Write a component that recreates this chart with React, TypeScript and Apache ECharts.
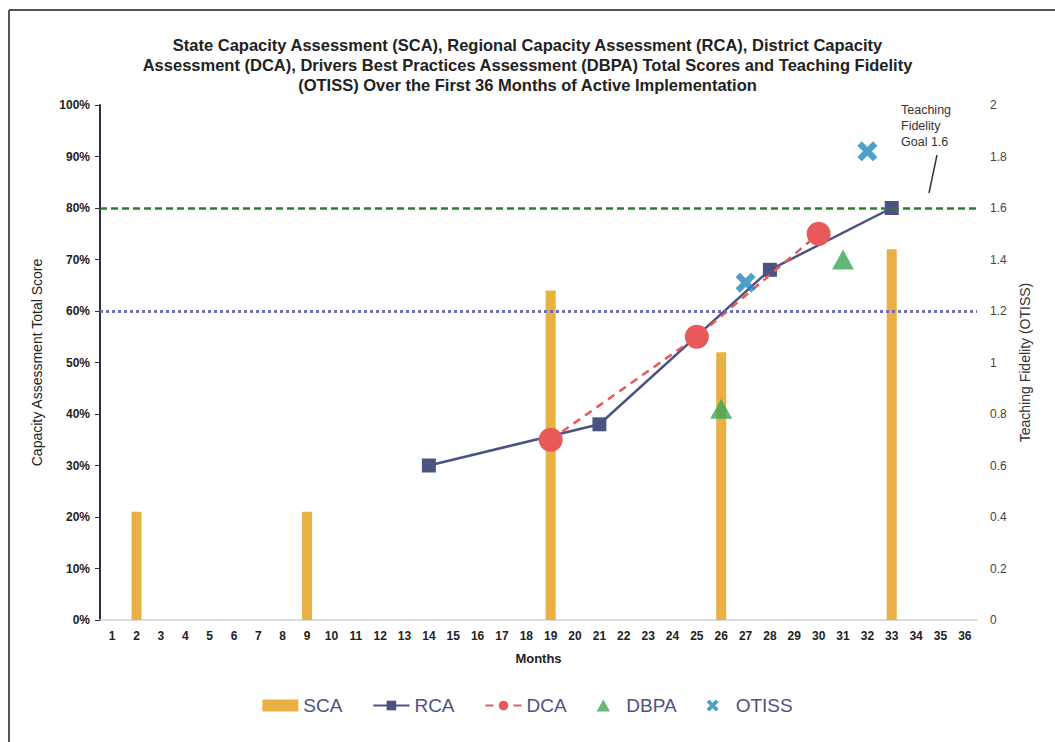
import React, { useEffect, useRef } from "react";
import * as echarts from "echarts";

const months = Array.from({ length: 36 }, (_, i) => String(i + 1));

const scaMonths = [2, 9, 19, 26, 33];
const scaValues = [21, 21, 64, 52, 72];

const rcaMonths = [14, 21, 28, 33];
const rcaValues = [30, 38, 68, 80];

const dcaMonths = [19, 25, 30];
const dcaValues = [35, 55, 75];

const dbpaMonths = [26, 31];
const dbpaValues = [41, 70];

const otissMonths = [27, 32];
const otissValues = [1.31, 1.82];

const goalCapacity = 80;
const goalDotted = 60;

const titleLines = [
  "State Capacity Assessment (SCA), Regional Capacity Assessment (RCA), District Capacity",
  "Assessment (DCA), Drivers Best Practices Assessment (DBPA) Total Scores and Teaching Fidelity",
  "(OTISS) Over the First 36 Months of Active Implementation",
];

function toSeries(ms: number[], vs: number[]) {
  return months.map((m) => {
    const idx = ms.indexOf(Number(m));
    return idx >= 0 ? vs[idx] : null;
  });
}

const X_PATH =
  "path://M2.2,0 L5,2.8 L7.8,0 L10,2.2 L7.2,5 L10,7.8 L7.8,10 L5,7.2 L2.2,10 L0,7.8 L2.8,5 L0,2.2 Z";
const TRI_PATH = "path://M5,0 L10,9 L0,9 Z";

export default function App() {
  const ref = useRef<HTMLDivElement>(null);
  useEffect(() => {
    if (!ref.current) return;
    const chart = echarts.init(ref.current, null, { renderer: "svg" });
    const font = "Liberation Sans";
    chart.setOption({
      animation: false,
      backgroundColor: "#ffffff",
      title: {
        text: titleLines.join("\n"),
        left: "center",
        top: 30,
        textStyle: {
          fontFamily: font,
          fontWeight: "bold",
          fontSize: 16.5,
          lineHeight: 20,
          color: "#222",
        },
      },
      grid: { left: 100, right: 78, top: 105, bottom: 122 },
      legend: {
        bottom: 22,
        left: "center",
        itemWidth: 36,
        itemHeight: 12,
        itemGap: 30,
        symbolKeepAspect: true,
        textStyle: { fontFamily: font, fontSize: 19, color: "#4a5382" },
        data: [
          { name: "SCA", icon: "rect" },
          "RCA",
          "DCA",
          { name: "DBPA", icon: TRI_PATH },
          "OTISS",
        ],
      },
      xAxis: {
        type: "category",
        data: months,
        name: "Months",
        nameLocation: "middle",
        nameGap: 32,
        nameTextStyle: { fontFamily: font, fontWeight: "bold", fontSize: 13, color: "#222" },
        axisLine: { lineStyle: { color: "#cfcfd6", width: 1.5 } },
        axisTick: { show: false },
        axisLabel: {
          interval: 0,
          fontFamily: font,
          fontWeight: "bold",
          fontSize: 12,
          color: "#222",
          margin: 10,
        },
      },
      yAxis: [
        {
          type: "value",
          min: 0,
          max: 100,
          interval: 10,
          name: "Capacity Assessment Total Score",
          nameLocation: "middle",
          nameGap: 56,
          nameTextStyle: { fontFamily: font, fontSize: 14, color: "#222" },
          axisLine: { show: true, lineStyle: { color: "#2a2d45", width: 2 } },
          axisTick: { show: true, length: 5, lineStyle: { color: "#2a2d45" } },
          splitLine: { show: false },
          axisLabel: {
            formatter: "{value}%",
            fontFamily: font,
            fontWeight: "bold",
            fontSize: 12,
            color: "#222",
            margin: 10,
          },
        },
        {
          type: "value",
          min: 0,
          max: 2,
          interval: 0.2,
          name: "Teaching Fidelity (OTISS)",
          nameLocation: "middle",
          nameGap: 38,
          nameRotate: 90,
          nameTextStyle: { fontFamily: font, fontSize: 14, color: "#333" },
          axisLine: { show: false },
          axisTick: { show: false },
          splitLine: { show: false },
          axisLabel: {
            fontFamily: font,
            fontSize: 12,
            color: "#444",
            margin: 13,
          },
        },
      ],
      series: [
        {
          name: "SCA",
          type: "bar",
          data: toSeries(scaMonths, scaValues),
          barWidth: 10,
          itemStyle: { color: "#e9b143" },
          z: 1,
          markLine: {
            silent: true,
            symbol: "none",
            label: { show: false },
            data: [
              { yAxis: goalCapacity, lineStyle: { color: "#2e7d32", type: [7, 4], width: 2.5 } },
              { yAxis: goalDotted, lineStyle: { color: "#6d70b6", type: [3, 3], width: 3 } },
            ],
          },
        },
        {
          name: "RCA",
          type: "line",
          data: toSeries(rcaMonths, rcaValues),
          connectNulls: true,
          symbol: "rect",
          symbolSize: 14,
          itemStyle: { color: "#4a5382" },
          lineStyle: { color: "#4a5382", width: 2.5 },
          z: 3,
        },
        {
          name: "DCA",
          type: "line",
          data: toSeries(dcaMonths, dcaValues),
          connectNulls: true,
          symbol: "circle",
          symbolSize: 24,
          itemStyle: { color: "#e85a5a" },
          lineStyle: { color: "#e85a5a", width: 2.5, type: [8, 6] },
          z: 4,
        },
        {
          name: "DBPA",
          type: "scatter",
          data: toSeries(dbpaMonths, dbpaValues),
          symbol: "triangle",
          symbolSize: [22, 20],
          itemStyle: { color: "#3aa655" },
          z: 5,
        },
        {
          name: "OTISS",
          type: "scatter",
          yAxisIndex: 1,
          data: toSeries(otissMonths, otissValues),
          symbol: X_PATH,
          symbolSize: 20,
          symbolKeepAspect: true,
          itemStyle: { color: "#2088bb" },
          z: 5,
        },
      ],
      graphic: [
        { type: "line", shape: { x1: 9, y1: 10, x2: 1055, y2: 10 }, style: { stroke: "#555", lineWidth: 2 } },
        { type: "line", shape: { x1: 9, y1: 10, x2: 9, y2: 742 }, style: { stroke: "#555", lineWidth: 2 } },
        {
          type: "text",
          left: 901,
          top: 102,
          style: {
            text: "Teaching\nFidelity\nGoal 1.6",
            fontFamily: font,
            fontSize: 12.5,
            lineHeight: 16,
            fill: "#333",
          },
        },
        { type: "line", shape: { x1: 937, y1: 155, x2: 929, y2: 193 }, style: { stroke: "#333", lineWidth: 1.5 } },
      ],
    });
    return () => chart.dispose();
  }, []);
  return (
    <div
      ref={ref}
      style={{ position: "absolute", left: 0, top: 0, width: 1055, height: 742, background: "#fff" }}
    />
  );
}
